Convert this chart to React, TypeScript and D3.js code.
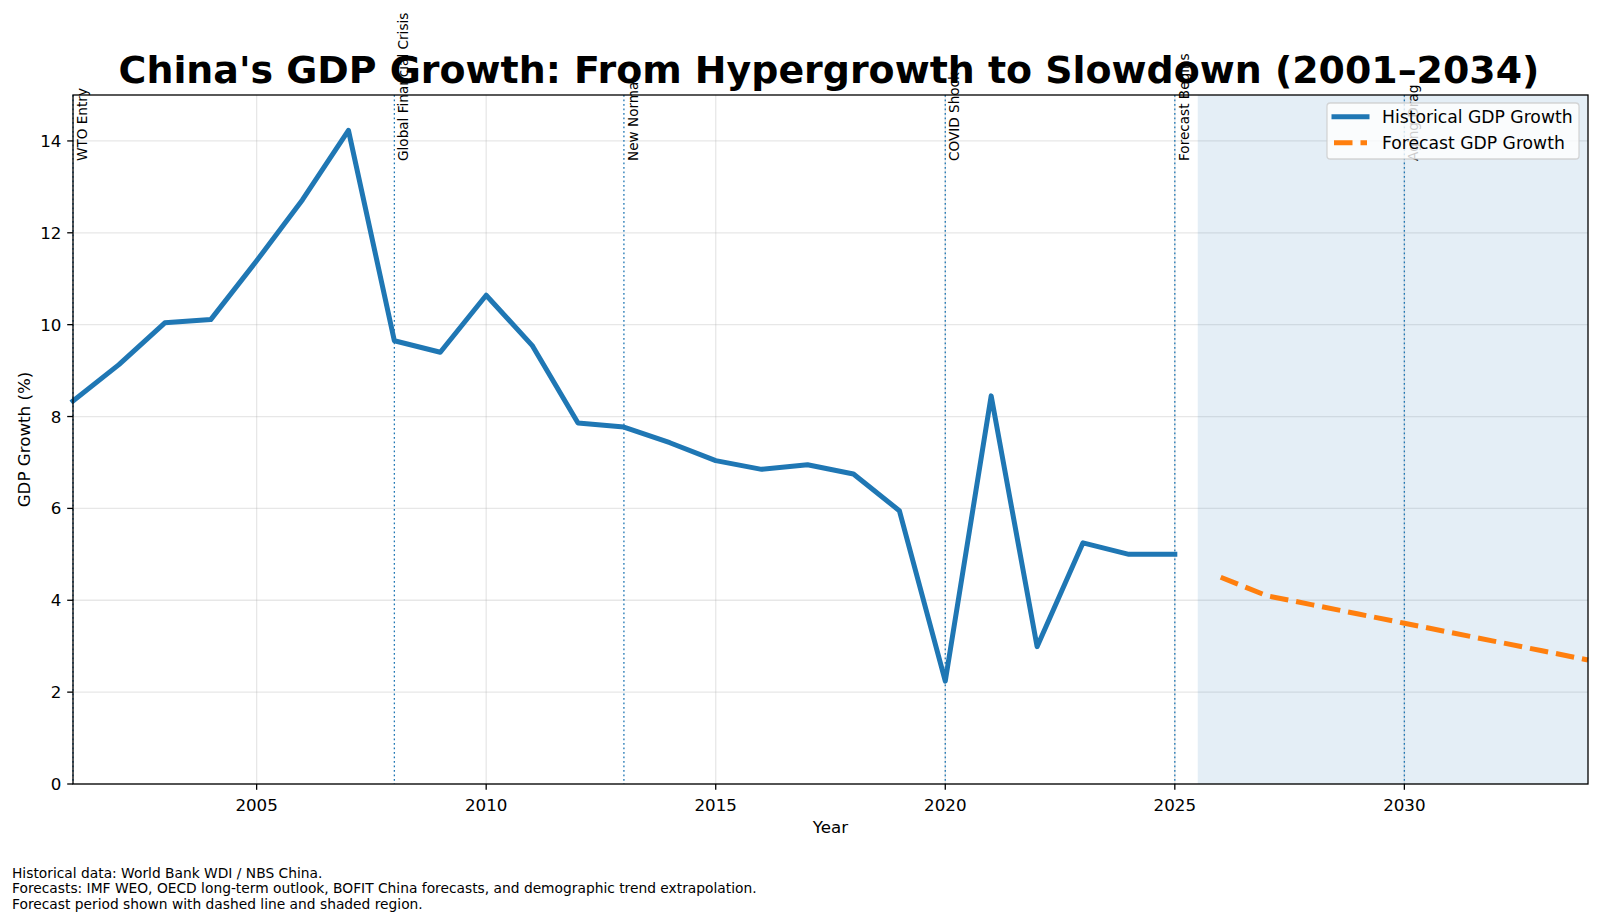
import React from "react";
import * as d3 from "d3";

// historical GDP growth (%), World Bank / NBS
const histYears = [
  2001, 2002, 2003, 2004, 2005, 2006, 2007, 2008, 2009, 2010, 2011, 2012, 2013,
  2014, 2015, 2016, 2017, 2018, 2019, 2020, 2021, 2022, 2023, 2024, 2025,
];
const histGrowth = [
  8.34, 9.13, 10.04, 10.11, 11.39, 12.72, 14.23, 9.65, 9.4, 10.64, 9.55, 7.86,
  7.77, 7.43, 7.04, 6.85, 6.95, 6.75, 5.95, 2.24, 8.45, 2.99, 5.25, 5.0, 5.0,
];

// forecast path
const forecastYears = [2026, 2027, 2028, 2029, 2030, 2031, 2032, 2033, 2034];
const forecastGrowth = [4.5, 4.1, 3.9, 3.7, 3.5, 3.3, 3.1, 2.9, 2.7];

const eventYears = [2001, 2008, 2013, 2020, 2025, 2030];
const eventLabels = [
  "WTO Entry",
  "Global Financial Crisis",
  "New Normal",
  "COVID Shock",
  "Forecast Begins",
  "Aging Drag",
];

const xTicks = [2005, 2010, 2015, 2020, 2025, 2030];
const yTicks = [0, 2, 4, 6, 8, 10, 12, 14];

const footnotes = [
  "Historical data: World Bank WDI / NBS China.",
  "Forecasts: IMF WEO, OECD long-term outlook, BOFIT China forecasts, and demographic trend extrapolation.",
  "Forecast period shown with dashed line and shaded region.",
];

const W = 1600;
const H = 924;
const left = 73;
const right = 1588;
const top = 95;
const bottom = 784;

const blue = "#1f77b4";
const orange = "#ff7f0e";
const font = "DejaVu Sans, sans-serif";

const App = () => {
  const x = d3.scaleLinear().domain([2001, 2034]).range([left, right]);
  const y = d3.scaleLinear().domain([0, 15]).range([bottom, top]);

  const lineGen = d3
    .line<[number, number]>()
    .x((d) => x(d[0]))
    .y((d) => y(d[1]));

  const histPath = lineGen(histYears.map((yr, i) => [yr, histGrowth[i]]));
  const forecastPath = lineGen(
    forecastYears.map((yr, i) => [yr, forecastGrowth[i]])
  );

  const legendX = 1327;
  const legendY = 103;

  return (
    <svg
      width={W}
      height={H}
      style={{ position: "absolute", left: 0, top: 0, background: "#fff" }}
      fontFamily={font}
    >
      <rect x={0} y={0} width={W} height={H} fill="#fff" />

      {/* grid */}
      <g stroke="#b0b0b0" strokeOpacity={0.3} strokeWidth={1.3}>
        {xTicks.map((t) => (
          <line key={"gx" + t} x1={x(t)} x2={x(t)} y1={top} y2={bottom} />
        ))}
        {yTicks.map((t) => (
          <line key={"gy" + t} x1={left} x2={right} y1={y(t)} y2={y(t)} />
        ))}
      </g>

      {/* forecast shading */}
      <rect
        x={x(2025.5)}
        y={top}
        width={x(2034) - x(2025.5)}
        height={bottom - top}
        fill={blue}
        fillOpacity={0.12}
      />

      {/* event lines */}
      <g stroke={blue} strokeWidth={1.3} strokeDasharray="1.7,2.8">
        {eventYears.map((yr) => (
          <line key={"ev" + yr} x1={x(yr)} x2={x(yr)} y1={top} y2={bottom} />
        ))}
      </g>

      <path
        d={histPath || ""}
        fill="none"
        stroke={blue}
        strokeWidth={5}
        strokeLinejoin="round"
        strokeLinecap="square"
      />
      <path
        d={forecastPath || ""}
        fill="none"
        stroke={orange}
        strokeWidth={5}
        strokeDasharray="18.5,8"
        strokeLinejoin="round"
      />

      {/* spines */}
      <rect
        x={left}
        y={top}
        width={right - left}
        height={bottom - top}
        fill="none"
        stroke="#000"
        strokeWidth={1.3}
      />

      {/* axes */}
      {xTicks.map((t) => (
        <g key={"xt" + t}>
          <line x1={x(t)} x2={x(t)} y1={bottom} y2={bottom + 5.8} stroke="#000" strokeWidth={1.3} />
          <text x={x(t)} y={bottom + 26.5} textAnchor="middle" fontSize={16.7}>
            {t}
          </text>
        </g>
      ))}
      {yTicks.map((t) => (
        <g key={"yt" + t}>
          <line x1={left - 5.8} x2={left} y1={y(t)} y2={y(t)} stroke="#000" strokeWidth={1.3} />
          <text x={left - 11.6} y={y(t)} dy="0.36em" textAnchor="end" fontSize={16.7}>
            {t}
          </text>
        </g>
      ))}

      <text x={(left + right) / 2} y={833} textAnchor="middle" fontSize={16.7}>
        Year
      </text>
      <text
        transform={`translate(30, ${(top + bottom) / 2}) rotate(-90)`}
        textAnchor="middle"
        fontSize={16.7}
      >
        GDP Growth (%)
      </text>

      {/* event labels */}
      {eventYears.map((yr, i) => (
        <text
          key={"el" + yr}
          transform={`translate(${x(yr) + 14}, 161) rotate(-90)`}
          fontSize={13.6}
        >
          {eventLabels[i]}
        </text>
      ))}

      {/* title */}
      <text
        x={829}
        y={83}
        textAnchor="middle"
        fontSize={37.9}
        fontWeight="bold"
      >
        China's GDP Growth: From Hypergrowth to Slowdown (2001–2034)
      </text>

      {/* legend */}
      <g>
        <rect
          x={legendX}
          y={legendY}
          width={252}
          height={56}
          rx={3.3}
          fill="#fff"
          fillOpacity={0.8}
          stroke="#cccccc"
          strokeOpacity={0.8}
          strokeWidth={1.3}
        />
        <line
          x1={legendX + 7}
          x2={legendX + 40}
          y1={legendY + 13.7}
          y2={legendY + 13.7}
          stroke={blue}
          strokeWidth={5}
          strokeLinecap="square"
        />
        <text x={legendX + 55} y={legendY + 13.7} dy="0.36em" fontSize={17.2}>
          Historical GDP Growth
        </text>
        <line
          x1={legendX + 7}
          x2={legendX + 40}
          y1={legendY + 39.7}
          y2={legendY + 39.7}
          stroke={orange}
          strokeWidth={5}
          strokeDasharray="18.5,8"
        />
        <text x={legendX + 55} y={legendY + 39.7} dy="0.36em" fontSize={17.2}>
          Forecast GDP Growth
        </text>
      </g>

      {/* footnote */}
      {footnotes.map((f, i) => (
        <text key={"fn" + i} x={12} y={878 + i * 15.3} fontSize={13.8}>
          {f}
        </text>
      ))}
    </svg>
  );
};

export default App;
